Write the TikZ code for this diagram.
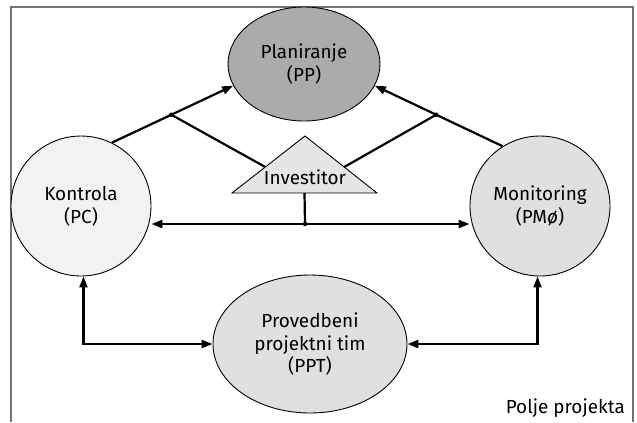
\documentclass[tikz,border=0pt]{standalone}
\usepackage{fontspec}
\setmainfont{Fira Sans}
\usetikzlibrary{arrows.meta,shapes.geometric,calc}

\tikzset{
  polje/.style={ellipse,draw,line width=0.9bp,inner sep=0pt,align=center},
  veza/.style={line width=2.2bp},
  tocka/.style={circle,fill,inner sep=0pt,minimum size=4.5bp},
}

\begin{document}
\begin{tikzpicture}[x=1bp,y=-1bp,>={Triangle[length=11bp,width=8bp]},
    font=\fontsize{19}{23}\selectfont]
  \useasboundingbox (0,0) rectangle (637,422);
  % okvir
  \draw[line width=1.5bp,black!55] (11,422) |- (633,7) -- (633,422);
  \node[anchor=base east,inner sep=0pt] (okvir) at (625,413) {Polje projekta};

  \node[polje,fill=black!33,minimum width=152bp,minimum height=114bp] (plan) at (304,64) {Planiranje\\(PP)};
  \node[polje,fill=black!5,minimum size=140bp] (kontr) at (81,206) {Kontrola\\(PC)};
  \node[polje,fill=black!12,minimum size=140bp] (monit) at (540,206) {Monitoring\\(PM{\itshape ø})};
  \node[polje,fill=black!12,minimum width=194bp,minimum height=138bp] (tim) at (310,344) {Provedbeni\\projektni tim\\(PPT)};

  % investitor
  \coordinate (tt) at (305,136);
  \coordinate (tl) at (232,193);
  \coordinate (tr) at (377,193);
  \filldraw[fill=black!10,line width=0.9bp] (tl) -- (tt) -- (tr) -- cycle;
  \node (invest) at (305,177) {Investitor};
  \coordinate (il) at ($(tl)!0.456!(tt)$);
  \coordinate (ir) at ($(tr)!0.456!(tt)$);
  \coordinate (ib) at ($(tl)!0.5!(tr)$);
  \coordinate (hub) at (305,224);

  % veze
  \draw[veza,->] (kontr.64) -- coordinate[pos=0.49] (jl) (plan.197);
  \draw[veza,->] (monit.122) -- coordinate[pos=0.52] (jr) (plan.343);
  \draw[veza] (jl) -- (il);
  \draw[veza] (jr) -- (ir);
  \draw[veza] (ib) -- (hub);
  \draw[veza,->] (hub) -- (hub -| kontr.east);
  \draw[veza,->] (hub) -- (hub -| monit.west);
  \draw[veza,<->] (kontr.272) |- (tim.west);
  \draw[veza,<->] (monit.268) |- (tim.east);
  \node[tocka] (tjl) at (jl) {};
  \node[tocka] (tjr) at (jr) {};
  \node[tocka] (thub) at (hub) {};
\end{tikzpicture}
\end{document}
